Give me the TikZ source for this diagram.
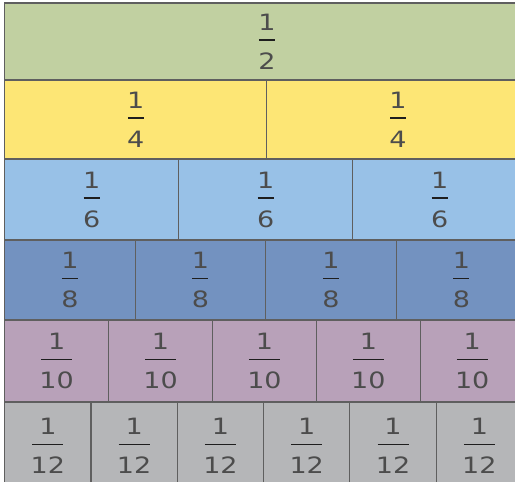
\documentclass[tikz,border=0pt]{standalone}
\usepackage{fontspec}
\newfontfamily\fracfont[FakeStretch=1.2]{DejaVu Sans}
\definecolor{cA}{HTML}{C1D0A1}
\definecolor{cB}{HTML}{FDE675}
\definecolor{cC}{HTML}{98C1E7}
\definecolor{cD}{HTML}{7392C0}
\definecolor{cE}{HTML}{B8A1B9}
\definecolor{cF}{HTML}{B5B6B8}
\definecolor{txt}{HTML}{4C4C4C}
\definecolor{barcol}{HTML}{1E1E1E}
\definecolor{cellline}{HTML}{5F5F5F}
\begin{document}
\begin{tikzpicture}[x=1pt,y=-1pt,
  cell/.style={draw=cellline, line width=1.1pt},
  numtxt/.style={anchor=base, inner sep=0pt, text=txt, font=\fracfont\fontsize{22.5}{22.5}\selectfont},
  fbar/.style={draw=barcol, line width=1.6pt}]
\useasboundingbox (0,0) rectangle (515,482);
\clip (0,0) rectangle (515,482);
\foreach \row/\top/\bot/\w/\n/\den/\col/\bw in {
  1/3/80/524.4/1/2/cA/16,
  2/80/159/262.2/2/4/cB/16,
  3/159/240/174/3/6/cC/16,
  4/240/320/130.5/4/8/cD/16,
  5/320/402/103.9/5/10/cE/31,
  6/402/490/86.3/6/12/cF/31} {
  \foreach \i in {1,...,\n} {
    \pgfmathsetmacro\xa{4.7+(\i-1)*\w}
    \pgfmathsetmacro\xb{4.7+\i*\w}
    \pgfmathsetmacro\cx{(\xa+\xb)/2}
    \pgfmathsetmacro\by{(\top+\bot)/2-1.5}
    \filldraw[cell, fill=\col] (\xa,\top) rectangle (\xb,\bot);
    \node[numtxt] (n\row-\i) at (\cx,\by-10) {1};
    \node[numtxt] (d\row-\i) at (\cx,\by+29) {\den};
    \draw[fbar] (\cx-\bw/2,\by) -- (\cx+\bw/2,\by);
  }
}
\end{tikzpicture}
\end{document}
